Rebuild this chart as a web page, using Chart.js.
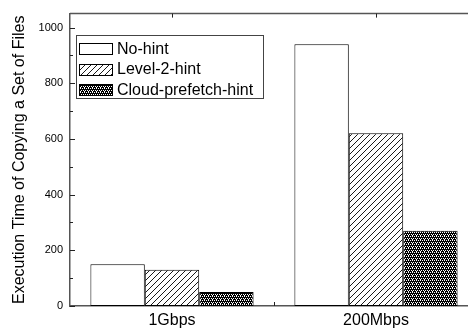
<!DOCTYPE html>
<html>
<head>
<meta charset="utf-8">
<script src="https://cdn.jsdelivr.net/npm/chart.js@4/dist/chart.umd.min.js"></script>
<style>
  html, body { margin: 0; padding: 0; background: #fff; overflow: hidden; }
  #wrap { width: 468px; height: 332px; overflow: hidden; }
  canvas { display: block; }
</style>
</head>
<body>
<div id="wrap"><canvas id="c" width="480" height="332"></canvas></div>
<script>
// Link speeds on the x axis
const categories = ['1Gbps', '200Mbps'];
// Execution time per hint strategy
const noHint = [150, 940];
const level2Hint = [130, 620];
const cloudPrefetchHint = [50, 270];
const seriesNames = ['No-hint', 'Level-2-hint', 'Cloud-prefetch-hint'];
const yTickValues = [0, 200, 400, 600, 800, 1000];
const yMinorValues = [100, 300, 500, 700, 900];

const FONT = "'Liberation Sans', Arial, sans-serif";
const AXIS_COLOR = '#555';

// Fill patterns
function hatchPattern() {
  const c = document.createElement('canvas');
  c.width = 6; c.height = 6;
  const g = c.getContext('2d');
  g.fillStyle = '#fff'; g.fillRect(0, 0, 6, 6);
  g.strokeStyle = '#000'; g.lineWidth = 0.9;
  g.beginPath();
  g.moveTo(-1, 7); g.lineTo(7, -1);
  g.moveTo(-1, 1); g.lineTo(1, -1);
  g.moveTo(5, 7); g.lineTo(7, 5);
  g.stroke();
  return g.createPattern(c, 'repeat');
}
function dotPattern() {
  const c = document.createElement('canvas');
  c.width = 4; c.height = 4;
  const g = c.getContext('2d');
  g.fillStyle = '#000'; g.fillRect(0, 0, 4, 4);
  g.fillStyle = '#fff';
  [[0,0],[2,0],[1,2],[3,2],[0,3]].forEach(([x,y]) => g.fillRect(x, y, 1, 1));
  return g.createPattern(c, 'repeat');
}

const fills = ['#fff', hatchPattern(), dotPattern()];
const values = [noHint, level2Hint, cloudPrefetchHint];

// Frame line on top, inward tick marks and the boxed legend
const framePlugin = {
  id: 'frame',
  afterDraw(chart) {
    const {ctx, chartArea: a} = chart;
    const ys = chart.scales.y, xs = chart.scales.x;
    ctx.save();
    ctx.strokeStyle = AXIS_COLOR;
    ctx.lineWidth = 1.5;
    ctx.beginPath();
    ctx.moveTo(a.left, a.top); ctx.lineTo(a.right, a.top);
    ctx.stroke();
    ctx.lineWidth = 1;
    ctx.strokeStyle = '#222';
    ctx.beginPath();
    yTickValues.forEach(v => {
      const y = Math.round(ys.getPixelForValue(v)) + 0.5;
      ctx.moveTo(a.left, y); ctx.lineTo(a.left + 5, y);
    });
    yMinorValues.forEach(v => {
      const y = Math.round(ys.getPixelForValue(v)) + 0.5;
      ctx.moveTo(a.left, y); ctx.lineTo(a.left + 3, y);
    });
    categories.forEach((c, i) => {
      const xc = Math.round(xs.getPixelForValue(i)) + 0.5;
      ctx.moveTo(xc, a.top); ctx.lineTo(xc, a.top + 4);
      if (i < categories.length - 1) {
        const xb = Math.round((xs.getPixelForValue(i) + xs.getPixelForValue(i + 1)) / 2) + 0.5;
        ctx.moveTo(xb, a.bottom); ctx.lineTo(xb, a.bottom - 4);
      }
    });
    ctx.stroke();

    // legend
    const bx = 76.5, by = 35.5, bw = 187, bh = 63;
    ctx.fillStyle = '#fff';
    ctx.fillRect(bx, by, bw, bh);
    ctx.strokeStyle = '#444';
    ctx.lineWidth = 1;
    ctx.strokeRect(bx, by, bw, bh);
    ctx.font = '16px ' + FONT;
    ctx.textBaseline = 'middle';
    ctx.textAlign = 'left';
    chart.data.datasets.forEach((ds, i) => {
      const cy = 48.5 + i * 20.5;
      ctx.fillStyle = ds.backgroundColor;
      ctx.fillRect(79.5, Math.round(cy - 5.5) + 0.5, 33, 11);
      ctx.strokeStyle = '#000';
      ctx.strokeRect(79.5, Math.round(cy - 5.5) + 0.5, 33, 11);
      ctx.fillStyle = '#000';
      ctx.fillText(ds.label, 117, cy + 1);
    });
    ctx.restore();
  }
};

new Chart(document.getElementById('c'), {
  type: 'bar',
  data: {
    labels: categories,
    datasets: seriesNames.map((name, i) => ({
      label: name,
      data: values[i],
      backgroundColor: fills[i],
      borderColor: '#000',
      borderWidth: 1,
      borderSkipped: false,
      categoryPercentage: 0.8,
      barPercentage: 1.0
    }))
  },
  options: {
    responsive: false,
    animation: false,
    devicePixelRatio: 1,
    layout: { padding: { top: 3, right: 2, left: 0, bottom: 0 } },
    plugins: { legend: { display: false }, tooltip: { enabled: false } },
    scales: {
      x: {
        grid: { display: false, drawTicks: false },
        border: { display: true, color: AXIS_COLOR, width: 1.5 },
        ticks: { color: '#000', font: { family: FONT, size: 16 }, padding: 5 },
        afterFit(s) { s.height = 26; }
      },
      y: {
        min: 0,
        max: 1050,
        grid: { display: false, drawTicks: false },
        border: { display: true, color: AXIS_COLOR, width: 1.5 },
        ticks: {
          color: '#000',
          font: { family: FONT, size: 11 },
          padding: 7,
          callback: v => String(v)
        },
        afterBuildTicks(s) { s.ticks = yTickValues.map(v => ({ value: v })); },
        title: {
          display: true,
          text: 'Execution Time of Copying a Set of Files',
          color: '#000',
          font: { family: FONT, size: 16 },
          padding: { top: 10, bottom: 0 }
        },
        afterFit(s) { s.width = 70; }
      }
    }
  },
  plugins: [framePlugin]
});
</script>
</body>
</html>
